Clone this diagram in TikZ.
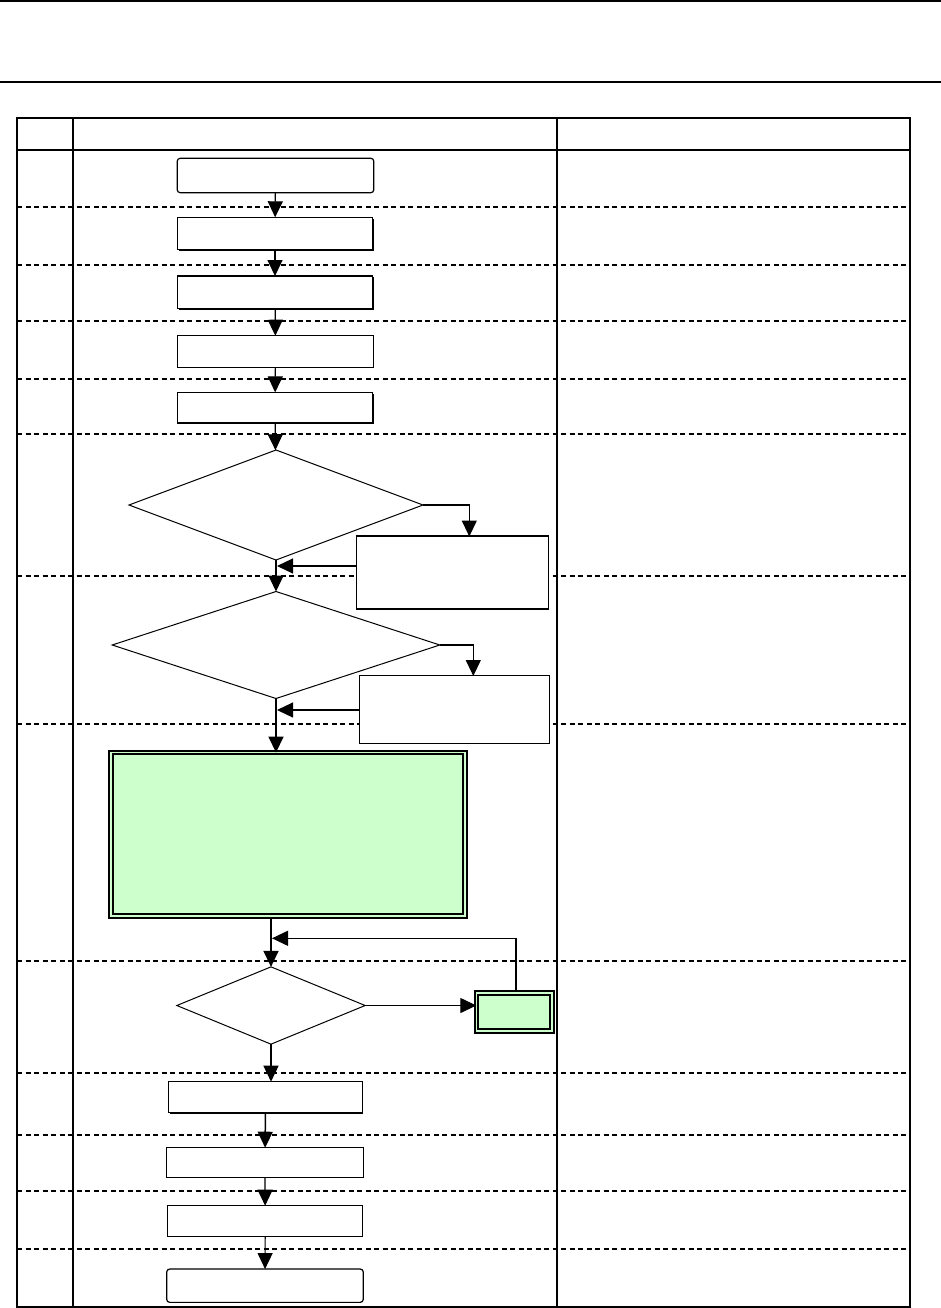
\documentclass[tikz,border=0pt]{standalone}
\usetikzlibrary{arrows.meta,shapes.geometric,shadows}
\definecolor{lgreen}{HTML}{CCFFCC}
\tikzset{
  every node/.style={inner sep=0pt, outer sep=0pt},
  stepbox/.style={draw, fill=white, line width=1.3pt, rectangle},
  shadowbox/.style={stepbox, general shadow={fill=black, shadow xshift=1.2pt, shadow yshift=-1.2pt}},
  termbox/.style={draw, fill=white, line width=1.2pt, rectangle, rounded corners=3pt},
  decbox/.style={draw, fill=white, line width=1pt, diamond},
  greenbox/.style={draw, line width=2pt, double=lgreen, double distance=1.6pt, fill=lgreen, rectangle},
  conn/.style={line width=1.2pt, -{Triangle[length=16pt,width=15pt]}},
  rowline/.style={line width=1.8pt, dash pattern=on 5pt off 3.5pt},
  frame/.style={line width=1.4pt}
}
\begin{document}
\begin{tikzpicture}[x=1pt,y=-1pt]
\useasboundingbox (0,0) rectangle (941,1308);
% page rules
\draw[line width=1.2pt] (0,1) -- (941,1);
\draw[line width=1.2pt] (0,82) -- (941,82);
% row separators
\foreach \yy in {207,265,321,379,434,576,724,961,1073,1135,1191,1249}
  \draw[rowline] (17,\yy) -- (910,\yy);
% table frame
\draw[frame] (17,118) rectangle (910,1307);
\draw[frame] (17,150) -- (910,150);
\draw[frame] (73,118) -- (73,1307);
\draw[frame] (557,118) -- (557,1307);
% nodes
\node[termbox, minimum width=196.6pt, minimum height=34.4pt] (b1) at (275.5,175.5) {};
\node[shadowbox, minimum width=195.4pt, minimum height=32.4pt] (b2) at (275,233.5) {};
\node[shadowbox, minimum width=195.4pt, minimum height=32.3pt] (b3) at (275,292.2) {};
\node[stepbox, minimum width=195.4pt, minimum height=32pt] (b4) at (275.5,351.7) {};
\node[shadowbox, minimum width=195.4pt, minimum height=30.7pt] (b5) at (275,407.7) {};
\node[decbox, minimum width=294pt, minimum height=110pt] (d1) at (276,505) {};
\node[stepbox, line width=1.2pt, minimum width=191.6pt, minimum height=73pt] (s1) at (452.5,572.5) {};
\node[decbox, minimum width=327.6pt, minimum height=107pt] (d2) at (276,645) {};
\node[stepbox, line width=1.1pt, minimum width=189.6pt, minimum height=67.6pt] (s2) at (454.5,709.5) {};
\node[greenbox, minimum width=354pt, minimum height=163.5pt] (g) at (287.7,834.3) {};
\node[decbox, minimum width=188.3pt, minimum height=77.3pt] (d3) at (271,1005.5) {};
\node[greenbox, minimum width=75.7pt, minimum height=38.4pt] (sg) at (514.2,1012) {};
\node[shadowbox, minimum width=193.4pt, minimum height=30.6pt] (b10) at (265.5,1097) {};
\node[stepbox, line width=1.2pt, minimum width=196.6pt, minimum height=29.6pt] (b11) at (265,1162.5) {};
\node[stepbox, line width=1.2pt, minimum width=195pt, minimum height=31pt] (b12) at (265.2,1221.2) {};
\node[termbox, minimum width=196.6pt, minimum height=33.3pt] (e) at (265,1285.7) {};
% helper coordinates
\coordinate (k1) at (469.3,536.5);
\coordinate (m1) at (277,566);
\coordinate (k2) at (473.3,676);
\coordinate (m2) at (277,710);
\coordinate (gb) at (271,918);
\coordinate (m3) at (272,938.3);
\coordinate (sgt) at (516,991);
% connectors
\draw[conn] (b1) -- (b2);
\draw[conn] (b2) -- (b3);
\draw[conn] (b3) -- (b4);
\draw[conn] (b4) -- (b5);
\draw[conn] (b5) -- (d1);
\draw[conn] (d1.east) -| (k1);
\draw[conn] (s1.west |- m1) -- (m1);
\draw[conn] (d1) -- (d2);
\draw[conn] (d2.east) -| (k2);
\draw[conn] (s2.west |- m2) -- (m2);
\draw[conn, line width=1.6pt] (d2.south) -- (d2.south |- g.north);
\draw[conn, line width=1.6pt] (gb) -- (d3.north);
\draw[conn] (sgt) |- (m3);
\draw[conn] (d3.east) -- (d3.east -| sg.west);
\draw[conn, line width=1.5pt] (d3.south) -- (d3.south |- b10.north);
\draw[conn, line width=1.5pt] (b10) -- (b11);
\draw[conn] (b11) -- (b12);
\draw[conn] (b12) -- (e);
\end{tikzpicture}
\end{document}
